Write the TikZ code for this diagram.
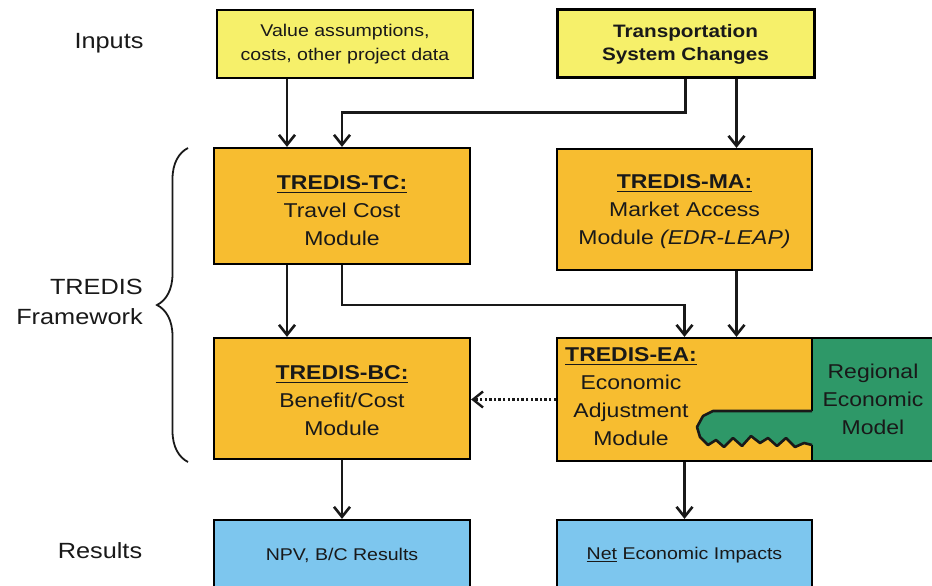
\documentclass[tikz,border=0pt]{standalone}
\usepackage{fontspec}
\setmainfont{Liberation Sans}[FakeStretch=1.15]
\usetikzlibrary{arrows.meta,decorations.pathreplacing,calc}

\definecolor{inputyellow}{RGB}{246,240,106}
\definecolor{moduleorange}{RGB}{247,189,48}
\definecolor{regiongreen}{RGB}{46,152,104}
\definecolor{resultblue}{RGB}{125,198,238}
\definecolor{inkdark}{RGB}{25,25,25}

% thick underline for module titles
\newcommand{\ulinethick}[1]{\setbox0\hbox{#1}\leavevmode\rlap{\raisebox{-3pt}{\rule{\wd0}{1.3pt}}}\box0\relax}

\tikzset{
  boxbase/.style={draw=black, line width=2.2pt, inner sep=0pt, align=center, text=inkdark},
  inbox/.style={boxbase, fill=inputyellow, minimum width=256pt, minimum height=68pt},
  modbox/.style={boxbase, fill=moduleorange, minimum width=255pt, minimum height=121pt},
  modtext/.style={align=center, inner sep=0pt, text=inkdark, font=\fontsize{20}{28}\selectfont},
  outbox/.style={boxbase, fill=resultblue, minimum width=255pt, minimum height=70pt,
                 font=\fontsize{17}{22}\selectfont},
  lbl/.style={font=\fontsize{22}{30}\selectfont, inner sep=0pt, text=inkdark},
  conn/.style={line width=2.6pt, draw=inkdark, -{Straight Barb[length=10pt,width=16pt]}},
  dotconn/.style={conn, line width=2.4pt, dash pattern=on 2.4pt off 2.2pt},
}

\begin{document}
\begin{tikzpicture}[x=1pt,y=-1pt]
\fill[white] (0,0) rectangle (932,586);
\useasboundingbox (0,0) rectangle (932,586);

% row labels
\node[lbl] (inputs) at (109,43) {Inputs};
\node[lbl] (results) at (100,551) {Results};
\node[lbl, align=right, anchor=east] (framework) at (143,302) {TREDIS\\Framework};

% brace around the framework modules
\draw[line width=1.8pt, draw=inkdark, decorate, decoration={brace, amplitude=31pt}]
  (188,462) -- (188,148);

% inputs
\node[inbox, font=\fontsize{17}{24}\selectfont] (val) at (345,44)
  {Value assumptions,\\costs, other project data};
\node[inbox, line width=3pt, minimum width=257pt, font=\bfseries\fontsize{18}{23}\selectfont] (tsc) at (685.5,44)
  {Transportation\\System Changes};

% framework modules
\node[modbox, minimum width=256pt, minimum height=116pt] (tc) at (342,206) {};
\node[modtext] (tctext) at (342,211) {\textbf{\ulinethick{TREDIS-TC:}}\\Travel Cost\\Module};

\node[modbox] (ma) at (684.5,209.5) {};
\node[modtext] (matext) at (684.5,212) {\textbf{\ulinethick{TREDIS-MA:}}\\Market Access\\Module \textit{(EDR-LEAP)}};

\node[modbox, minimum width=256pt] (bc) at (342,398.5) {};
\node[modtext] (bctext) at (342,401) {\textbf{\ulinethick{TREDIS-BC:}}\\Benefit/Cost\\Module};

\node[modbox, minimum height=123pt] (ea) at (684.5,399.5) {};
\node[boxbase, fill=regiongreen, minimum width=122pt, minimum height=123pt,
      font=\fontsize{20}{28}\selectfont] (rem) at (873,399.5) {Regional\\Economic\\Model};

% green region reaching into the adjustment module
\fill[regiongreen] (813.5,411) -- (713,411) -- (703,416) -- (697,427) -- (700,437)
  -- (708,445) -- (716,440) -- (724,447) -- (733,438) -- (742,446) -- (751,436)
  -- (760,443) -- (768,438) -- (777,446) -- (786,438) -- (795,447) -- (804,443)
  -- (813.5,445) -- cycle;
\draw[line width=2.6pt, draw=inkdark, line join=round] (812,411) -- (713,411) -- (703,416) -- (697,427) -- (700,437)
  -- (708,445) -- (716,440) -- (724,447) -- (733,438) -- (742,446) -- (751,436)
  -- (760,443) -- (768,438) -- (777,446) -- (786,438) -- (795,447) -- (804,443)
  -- (812,445);

\node[modtext] (eatext) at (631,397) {\textbf{\ulinethick{TREDIS-EA:}}\\Economic\\Adjustment\\Module};

% results
\node[outbox, minimum width=256pt] (npv) at (342,555) {NPV, B/C Results};
\node[outbox] (net) at (684.5,555) {\ulinethick{Net} Economic Impacts};

% connectors
\draw[conn] ([xshift=-58pt]val.south) -- ([xshift=-55pt]tc.north);
\draw[conn] (tsc.south) -- ++(0,33) -| (tc.north);
\draw[conn] ([xshift=51pt]tsc.south) -- ([xshift=52pt]ma.north);
\draw[conn] ([xshift=-55pt]tc.south) -- ([xshift=-55pt]bc.north);
\draw[conn] (tc.south) -- ++(0,40) -| (ea.north);
\draw[conn] ([xshift=52pt]ma.south) -- ([xshift=52pt]ea.north);
\draw[dotconn] (ea.west) -- (ea.west -| bc.east);
\draw[conn] (bc.south) -- (bc.south |- npv.north);
\draw[conn] (ea.south) -- (ea.south |- net.north);
\end{tikzpicture}
\end{document}
